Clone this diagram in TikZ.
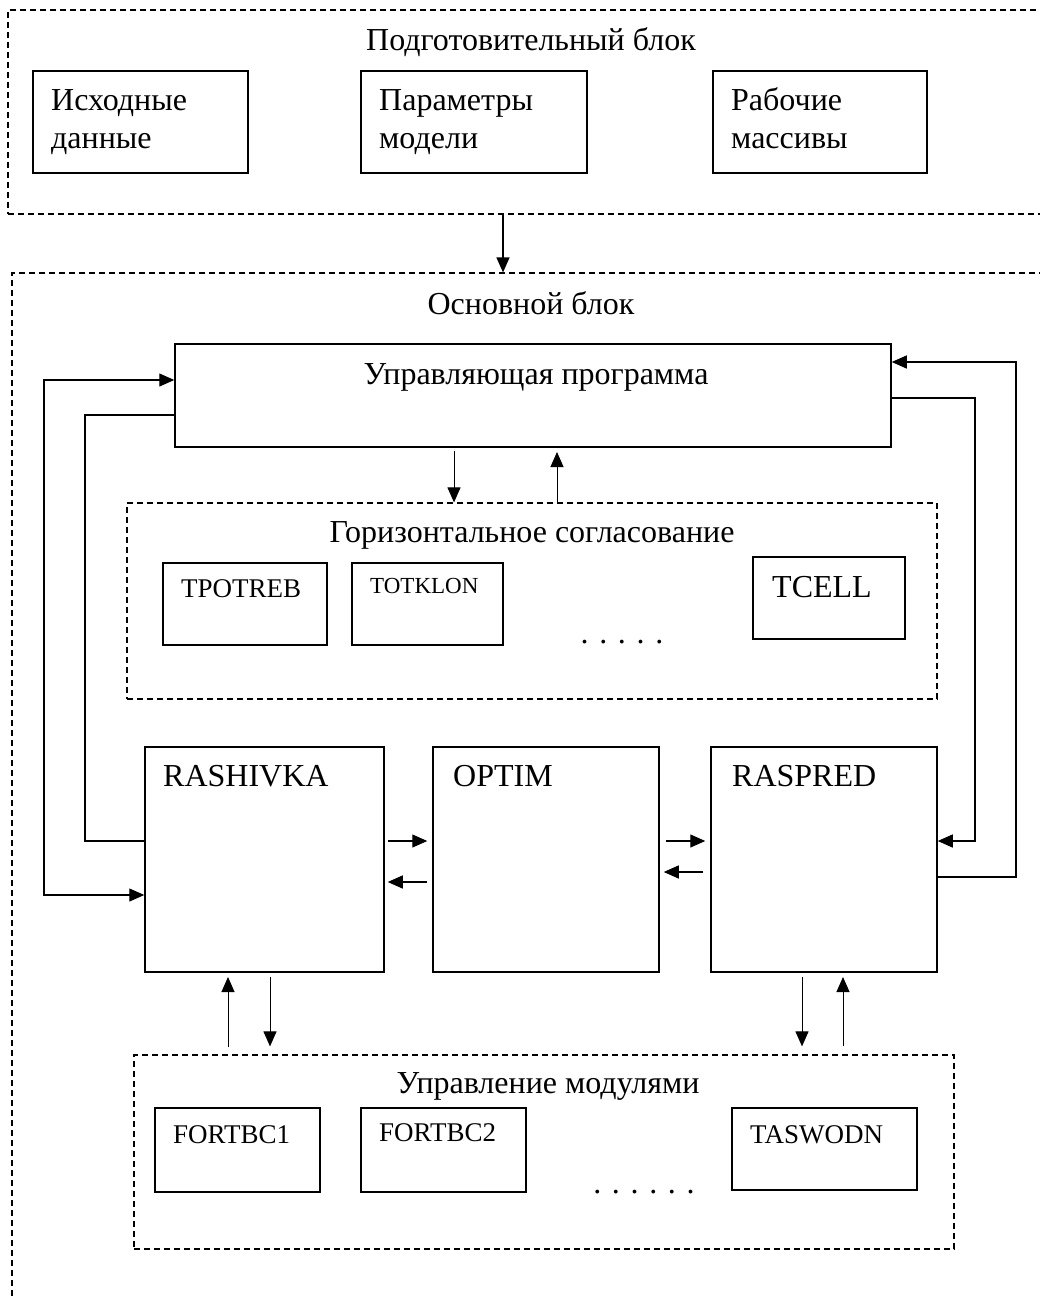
\documentclass[tikz,border=0pt]{standalone}
\usepackage{fontspec}
\setmainfont{Liberation Serif}
\usetikzlibrary{arrows.meta}
\begin{document}
\begin{tikzpicture}[x=1pt,y=-1pt,
  box/.style={draw, line width=1.5pt, rectangle, inner sep=0pt},
  dbox/.style={draw, line width=1.2pt, rectangle, inner sep=0pt, dash pattern=on 6pt off 4pt},
  txt/.style={inner sep=0pt, anchor=base west},
  ttl/.style={inner sep=0pt, anchor=base, font=\fontsize{32}{38}\selectfont},
  big/.style={font=\fontsize{32}{38}\selectfont},
  sml/.style={font=\fontsize{27}{32}\selectfont},
  conn/.style={line width=1.3pt},
  arr/.style={line width=1.3pt, -{Triangle[length=15pt,width=13pt]}},
  varr/.style={line width=1pt, -{Triangle[length=15pt,width=13pt]}},
  barr/.style={line width=1.3pt, {Triangle[length=15pt,width=13pt]}-{Triangle[length=15pt,width=13pt]}}]
\path[use as bounding box] (0,0) rectangle (1040,1299);
\clip (0,0) rectangle (1040,1299);

% preparatory block
\node[dbox, minimum width=1042pt, minimum height=204pt] (prep) at (529,112) {};
\node[ttl] (prepT) at (531,50) {Подготовительный блок};
\node[box, minimum width=215pt, minimum height=102pt] (b1) at (140.5,122) {};
\node[box, minimum width=226pt, minimum height=102pt] (b2) at (474,122) {};
\node[box, minimum width=214pt, minimum height=102pt] (b3) at (820,122) {};
\node[txt, big] (b1a) at (51,110) {Исходные};
\node[txt, big] (b1b) at (51,148) {данные};
\node[txt, big] (b2a) at (379,110) {Параметры};
\node[txt, big] (b2b) at (379,148) {модели};
\node[txt, big] (b3a) at (731,110) {Рабочие};
\node[txt, big] (b3b) at (731,148) {массивы};

% main block
\node[dbox, minimum width=1038pt, minimum height=1047pt] (main) at (531,796.5) {};
\node[ttl] (mainT) at (531,314) {Основной блок};

\node[box, minimum width=716pt, minimum height=103pt] (ctrl) at (533,395.5) {};
\node[ttl] (ctrlT) at (536,384) {Управляющая программа};

\node[dbox, minimum width=810pt, minimum height=196pt] (horiz) at (532,601) {};
\node[ttl] (horizT) at (532,542) {Горизонтальное согласование};
\node[box, minimum width=164pt, minimum height=82pt] (tp) at (245,604) {};
\node[box, minimum width=151pt, minimum height=82pt] (tk) at (427.5,604) {};
\node[box, minimum width=152pt, minimum height=82pt] (tc) at (829,598) {};
\node[txt, sml] (tpT) at (181,597) {TPOTREB};
\node[txt, font=\fontsize{23}{28}\selectfont] (tkT) at (370,593) {TOTKLON};
\node[txt, big] (tcT) at (772,597) {TCELL};
\node[ttl] (dots1) at (622,643) {. . . . .};

\node[box, minimum width=239pt, minimum height=225pt] (rash) at (264.5,859.5) {};
\node[box, minimum width=226pt, minimum height=225pt] (opt) at (546,859.5) {};
\node[box, minimum width=226pt, minimum height=225pt] (rasp) at (824,859.5) {};
\node[txt, big] (rashT) at (163,786) {RASHIVKA};
\node[txt, big] (optT) at (453,786) {OPTIM};
\node[txt, big] (raspT) at (732,786) {RASPRED};

\node[dbox, minimum width=820pt, minimum height=194pt] (mod) at (544,1152) {};
\node[ttl] (modT) at (548,1093) {Управление модулями};
\node[box, minimum width=165pt, minimum height=84pt] (f1) at (237.5,1150) {};
\node[box, minimum width=165pt, minimum height=84pt] (f2) at (443.5,1150) {};
\node[box, minimum width=185pt, minimum height=82pt] (tw) at (824.5,1149) {};
\node[txt, sml] (f1T) at (173,1143) {FORTBC1};
\node[txt, sml] (f2T) at (379,1141) {FORTBC2};
\node[txt, sml] (twT) at (750,1143) {TASWODN};
\node[ttl] (dots2) at (644,1193) {. . . . . .};

% coordinates for connector routing
\coordinate (x503) at (503,0);
\coordinate (L1) at (44,380);
\coordinate (L2) at (44,895);
\coordinate (M1) at (85,415);
\coordinate (M2) at (85,841);
\coordinate (R1) at (975,398);
\coordinate (R2) at (975,841);
\coordinate (S1) at (1016,362);
\coordinate (S2) at (1016,877);
\coordinate (d1) at (454,451);
\coordinate (u1) at (557,452);
\coordinate (y841) at (0,841);
\coordinate (y882) at (0,882);
\coordinate (y872) at (0,872);
\coordinate (q1) at (228,977);
\coordinate (q2) at (270,977);
\coordinate (q3) at (802,977);
\coordinate (q4) at (843,977);

\draw[arr] (prep.south -| x503) -- (main.north -| x503);

\draw[barr] (ctrl.west |- L1) -- (L1) -- (L2) -- (rash.west |- L2);
\draw[conn] (ctrl.west |- M1) -- (M1) -- (M2) -- (rash.west |- M2);
\draw[arr] (ctrl.east |- R1) -- (R1) -- (R2) -- (rasp.east |- R2);
\draw[arr] (rasp.east |- S2) -- (S2) -- (S1) -- (ctrl.east |- S1);

\draw[varr] (d1) -- (horiz.north -| d1);
\draw[varr] (horiz.north -| u1) -- (u1);

\draw[arr, shorten <=3pt, shorten >=5pt] (rash.east |- y841) -- (opt.west |- y841);
\draw[arr, shorten <=5pt, shorten >=3pt] (opt.west |- y882) -- (rash.east |- y882);
\draw[arr, shorten <=6pt, shorten >=5pt] (opt.east |- y841) -- (rasp.west |- y841);
\draw[arr, shorten <=7pt, shorten >=4pt] (rasp.west |- y872) -- (opt.east |- y872);

\draw[varr, shorten <=7pt] (mod.north -| q1) -- (q1);
\draw[varr, shorten >=8pt] (q2) -- (mod.north -| q2);
\draw[varr, shorten >=8pt] (q3) -- (mod.north -| q3);
\draw[varr, shorten <=8pt] (mod.north -| q4) -- (q4);
\end{tikzpicture}
\end{document}
